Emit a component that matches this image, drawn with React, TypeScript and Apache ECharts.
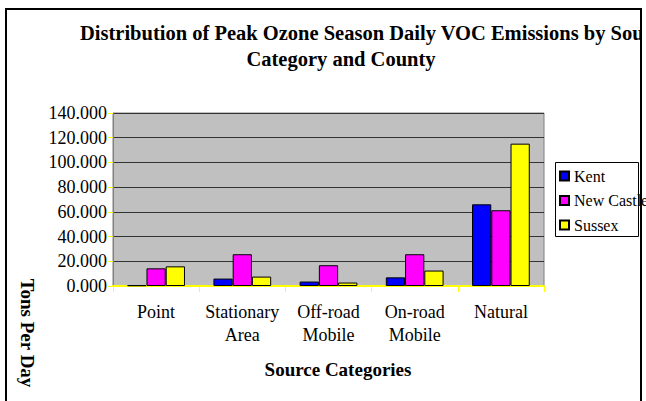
import React, { useEffect, useRef } from "react";
import * as echarts from "echarts";

const categories = ["Point", "Stationary\nArea", "Off-road\nMobile", "On-road\nMobile", "Natural"];
const seriesNames = ["Kent", "New Castle", "Sussex"];
const kent = [0.6, 6.0, 3.6, 7.0, 66.1];
const newCastle = [14.3, 25.7, 16.8, 25.7, 61.3];
const sussex = [15.9, 7.6, 2.8, 12.5, 115.2];
const colors = ["#0000FF", "#FF00FF", "#FFFF00"];
const titleLine1 = "Distribution of Peak Ozone Season Daily VOC Emissions by Source";
const titleLine2 = "Category and County";
const yTitle = "Tons Per Day";
const xTitle = "Source Categories";

const FONT = "'Liberation Serif', 'Times New Roman', serif";

export default function App() {
  const ref = useRef<HTMLDivElement>(null);
  useEffect(() => {
    if (!ref.current) return;
    const chart = echarts.init(ref.current, undefined, { renderer: "svg" });
    const values = [kent, newCastle, sussex];
    chart.setOption({
      animation: false,
      backgroundColor: "#fff",
      textStyle: { fontFamily: FONT },
      grid: {
        left: 113,
        top: 113,
        right: 646 - 544,
        bottom: 401 - 286,
        show: true,
        backgroundColor: "#C0C0C0",
        borderColor: "#808080",
        borderWidth: 1,
        containLabel: false,
      },
      legend: {
        orient: "vertical",
        left: 559,
        top: 168,
        padding: 0,
        itemWidth: 9,
        itemHeight: 9,
        itemGap: 8.5,
        icon: "rect",
        data: seriesNames,
        textStyle: { fontFamily: FONT, fontSize: 16, lineHeight: 16, color: "#000" },
      },
      xAxis: {
        type: "category",
        data: categories,
        axisLine: { show: true, lineStyle: { color: "#FFFF00", width: 2 } },
        axisTick: { show: true, length: 6, lineStyle: { color: "#FFFF00", width: 1 } },
        axisLabel: {
          interval: 0,
          margin: 14,
          fontFamily: FONT,
          fontSize: 18,
          lineHeight: 23,
          color: "#000",
        },
      },
      yAxis: {
        type: "value",
        min: 0,
        max: 140,
        interval: 20,
        axisLine: { show: true, lineStyle: { color: "#808080", width: 1 } },
        axisTick: { show: true, length: 5, lineStyle: { color: "#FFFF00", width: 1 } },
        axisLabel: {
          margin: 6,
          fontFamily: FONT,
          fontSize: 18,
          color: "#000",
          formatter: (v: number) => v.toFixed(3),
        },
        splitLine: { show: true, lineStyle: { color: "#333333", width: 1 } },
      },
      series: seriesNames.map((name, i) => ({
        name,
        type: "bar",
        data: values[i],
        barGap: "0%",
        barCategoryGap: "33%",
        itemStyle: { color: colors[i], borderColor: "#000", borderWidth: 1 },
      })),
      graphic: [
        {
          type: "rect",
          shape: { x: 555.5, y: 162.5, width: 83, height: 74 },
          style: { fill: "#fff", stroke: "#000", lineWidth: 1 },
          z: -1,
          silent: true,
        },
        {
          type: "text",
          x: 80,
          y: 33,
          style: {
            text: titleLine1,
            fontFamily: FONT,
            fontSize: 20.5,
            fontWeight: "bold",
            fill: "#000",
            textAlign: "left",
            textVerticalAlign: "middle",
          },
        },
        {
          type: "text",
          x: 341,
          y: 59,
          style: {
            text: titleLine2,
            fontFamily: FONT,
            fontSize: 20.5,
            fontWeight: "bold",
            fill: "#000",
            textAlign: "center",
            textVerticalAlign: "middle",
          },
        },
        {
          type: "rect",
          shape: { x: 641, y: 0, width: 10, height: 100 },
          style: { fill: "#fff" },
          silent: true,
        },
        {
          type: "text",
          x: 27,
          y: 333,
          rotation: -Math.PI / 2,
          style: {
            text: yTitle,
            fontFamily: FONT,
            fontSize: 19,
            fontWeight: "bold",
            fill: "#000",
            textAlign: "center",
            textVerticalAlign: "middle",
          },
        },
        {
          type: "text",
          x: 338,
          y: 369,
          style: {
            text: xTitle,
            fontFamily: FONT,
            fontSize: 19,
            fontWeight: "bold",
            fill: "#000",
            textAlign: "center",
            textVerticalAlign: "middle",
          },
        },
        {
          type: "rect",
          shape: { x: 6, y: 9, width: 635, height: 400 },
          style: { fill: "none", stroke: "#000", lineWidth: 2 },
          silent: true,
        },
      ],
    });
    return () => chart.dispose();
  }, []);
  return (
    <div style={{ position: "absolute", left: 0, top: 0, width: 646, height: 401, background: "#fff", overflow: "hidden" }}>
      <div ref={ref} style={{ width: 646, height: 401 }} />
    </div>
  );
}
